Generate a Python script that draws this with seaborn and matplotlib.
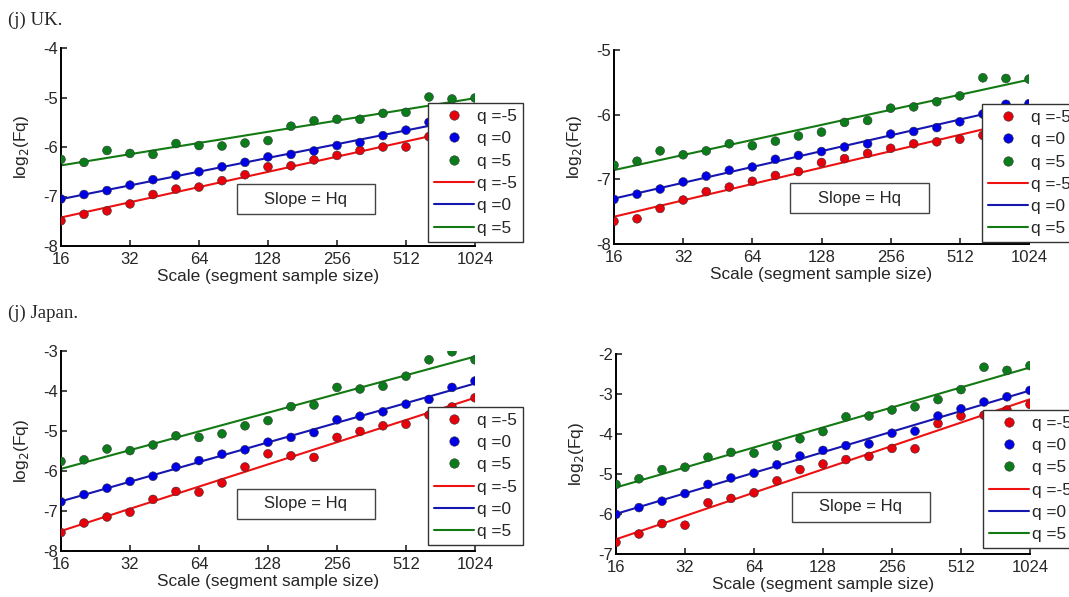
import numpy as np
import pandas as pd
import matplotlib
matplotlib.use("Agg")
import matplotlib.pyplot as plt
from matplotlib.lines import Line2D
from matplotlib.patches import Rectangle
import seaborn as sns

# ---------------- data ----------------
scales = [16 * 2 ** (k / 3) for k in range(19)]
q_labels = ["q =-5", "q =0", "q =5"]

uk_a_qm5 = [-7.49, -7.36, -7.29, -7.15, -6.96, -6.85, -6.81, -6.68, -6.56, -6.40,
            -6.38, -6.26, -6.17, -6.07, -6.00, -6.00, -5.79, -5.70, -5.62]
uk_a_q0 = [-7.05, -6.96, -6.88, -6.77, -6.66, -6.57, -6.50, -6.40, -6.31, -6.20,
           -6.15, -6.08, -5.97, -5.91, -5.77, -5.66, -5.50, -5.45, -5.40]
uk_a_q5 = [-6.25, -6.31, -6.07, -6.13, -6.15, -5.93, -5.97, -5.98, -5.92, -5.87,
           -5.58, -5.47, -5.44, -5.44, -5.32, -5.30, -4.99, -5.03, -5.01]

uk_b_qm5 = [-7.65, -7.61, -7.45, -7.32, -7.19, -7.12, -7.03, -6.94, -6.88, -6.74,
            -6.68, -6.60, -6.52, -6.45, -6.42, -6.38, -6.32, -6.15, -6.10]
uk_b_q0 = [-7.31, -7.23, -7.15, -7.04, -6.95, -6.86, -6.81, -6.69, -6.63, -6.57,
           -6.50, -6.45, -6.30, -6.26, -6.20, -6.11, -5.99, -5.84, -5.83]
uk_b_q5 = [-6.78, -6.72, -6.56, -6.62, -6.56, -6.45, -6.48, -6.41, -6.33, -6.27,
           -6.12, -6.09, -5.90, -5.88, -5.80, -5.71, -5.43, -5.44, -5.45]

jp_a_qm5 = [-7.54, -7.30, -7.15, -7.03, -6.71, -6.51, -6.53, -6.30, -5.90, -5.57,
            -5.62, -5.66, -5.16, -5.01, -4.87, -4.83, -4.60, -4.40, -4.17]
jp_a_q0 = [-6.77, -6.59, -6.43, -6.26, -6.13, -5.90, -5.74, -5.58, -5.47, -5.28,
           -5.16, -5.04, -4.72, -4.63, -4.52, -4.33, -4.21, -3.91, -3.75]
jp_a_q5 = [-5.76, -5.72, -5.45, -5.49, -5.35, -5.12, -5.16, -5.07, -4.87, -4.74,
           -4.39, -4.35, -3.91, -3.95, -3.88, -3.63, -3.22, -3.02, -3.22]

jp_b_qm5 = [-6.71, -6.50, -6.24, -6.28, -5.72, -5.61, -5.47, -5.17, -4.89, -4.75,
            -4.64, -4.56, -4.36, -4.37, -3.74, -3.55, -3.53, -3.40, -3.26]
jp_b_q0 = [-6.01, -5.84, -5.68, -5.49, -5.26, -5.10, -4.98, -4.77, -4.55, -4.41,
           -4.29, -4.25, -3.98, -3.93, -3.55, -3.37, -3.20, -3.07, -2.91]
jp_b_q5 = [-5.26, -5.12, -4.89, -4.83, -4.58, -4.46, -4.48, -4.30, -4.12, -3.94,
           -3.57, -3.55, -3.40, -3.32, -3.14, -2.89, -2.33, -2.41, -2.29]

x_ticks = [16, 32, 64, 128, 256, 512, 1024]
x_ticklabels = ["16", "32", "64", "128", "256", "512", "1024"]

panels = [
    dict(series=[uk_a_qm5, uk_a_q0, uk_a_q5], ylim=(-8, -4),
         pos=[61, 48, 475, 246]),
    dict(series=[uk_b_qm5, uk_b_q0, uk_b_q5], ylim=(-8, -5),
         pos=[614, 50, 1029, 244]),
    dict(series=[jp_a_qm5, jp_a_q0, jp_a_q5], ylim=(-8, -3),
         pos=[61, 351, 475, 551]),
    dict(series=[jp_b_qm5, jp_b_q0, jp_b_q5], ylim=(-7, -2),
         pos=[616, 354, 1030, 554]),
]

# ---------------- style ----------------
sns.set_style("ticks")
plt.rcParams["font.family"] = ["Liberation Sans", "DejaVu Sans"]
plt.rcParams["axes.unicode_minus"] = False
plt.rcParams["xtick.direction"] = "in"
plt.rcParams["ytick.direction"] = "in"

dot_colors = ["#e8000b", "#0000e6", "#0a7d1a"]
line_colors = ["#ee1111", "#1515b0", "#137a13"]
FS = 12
FL = 12.4

W, H = 1069, 597
fig = plt.figure(figsize=(W / 100, H / 100), dpi=100)

for p in panels:
    l, t, r, b = p["pos"]
    ax = fig.add_axes([l / W, 1 - b / H, (r - l) / W, (b - t) / H])
    rows = []
    for lab, vals in zip(q_labels, p["series"]):
        for s, v in zip(scales, vals):
            rows.append((s, v, lab))
    df = pd.DataFrame(rows, columns=["scale", "Fq", "q"])

    # fitted lines (least squares in log2 scale)
    fit_rows = []
    for lab, vals in zip(q_labels, p["series"]):
        c = np.polyfit(np.log2(scales), vals, 1)
        for s in (16, 1024):
            fit_rows.append((s, np.polyval(c, np.log2(s)), lab))
    fdf = pd.DataFrame(fit_rows, columns=["scale", "Fq", "q"])

    sns.lineplot(data=fdf, x="scale", y="Fq", hue="q", palette=line_colors,
                 hue_order=q_labels, linewidth=1.5, legend=False, ax=ax, zorder=2)
    sns.scatterplot(data=df, x="scale", y="Fq", hue="q", palette=dot_colors,
                    hue_order=q_labels, s=40, edgecolor="#333333", linewidth=0.4,
                    legend=False, ax=ax, zorder=3)

    ax.set_xscale("log", base=2)
    ax.set_xlim(16, 1024)
    ax.set_ylim(*p["ylim"])
    ax.set_xticks(x_ticks)
    ax.set_xticklabels(x_ticklabels)
    ax.minorticks_off()
    yt = np.arange(p["ylim"][0], p["ylim"][1] + 0.5, 1)
    ax.set_yticks(yt)
    ax.set_yticklabels([str(int(v)) for v in yt])
    ax.tick_params(axis="x", labelsize=FS, length=4, width=1.2, pad=4)
    ax.tick_params(axis="y", labelsize=FS, length=4, width=1.2, pad=2)
    ax.set_xlabel("Scale (segment sample size)", fontsize=FL, labelpad=2)
    ax.set_ylabel("log$_2$(Fq)", fontsize=FL, labelpad=9)
    sns.despine(ax=ax)
    for sp in ("left", "bottom"):
        ax.spines[sp].set_linewidth(1.4)
        ax.spines[sp].set_color("black")

    ax.add_patch(Rectangle((0.425, 0.16), 0.333, 0.152, transform=ax.transAxes,
                           fc="white", ec="#444444", lw=1.0, zorder=5))
    ax.text(0.5915, 0.236, "Slope = Hq", transform=ax.transAxes, ha="center",
            va="center", fontsize=FS, zorder=6)

    handles = [Line2D([], [], ls="", marker="o", ms=6.8, mfc=c, mec="#333333", mew=0.4)
               for c in dot_colors]
    handles += [Line2D([], [], color=c, lw=1.5) for c in line_colors]
    leg = ax.legend(handles, q_labels + q_labels, loc="upper left",
                    bbox_to_anchor=(0.887, 0.722), fontsize=FL, frameon=True,
                    fancybox=False, edgecolor="#333333", framealpha=1,
                    labelspacing=0.42, handlelength=2.3, handletextpad=0.2,
                    borderpad=0.35, borderaxespad=0)
    leg.get_frame().set_linewidth(1.0)
    leg.set_zorder(7)

fig.text(8 / W, 1 - 20 / H, "(j) UK.", family=["Liberation Serif", "DejaVu Serif"],
         fontsize=13.5, va="center", ha="left")
fig.text(8 / W, 1 - 313 / H, "(j) Japan.", family=["Liberation Serif", "DejaVu Serif"],
         fontsize=13.5, va="center", ha="left")

fig.savefig("out.png", dpi=100, facecolor="white")
